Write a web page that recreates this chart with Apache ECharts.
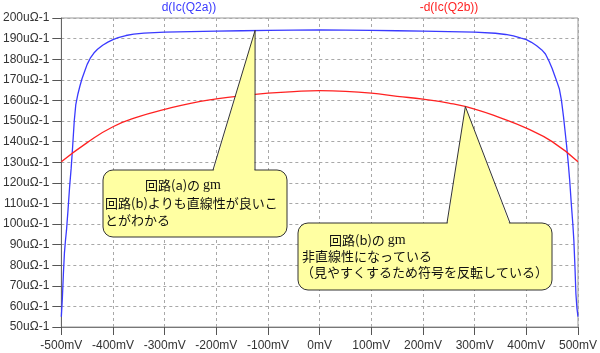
<!DOCTYPE html>
<html>
<head>
<meta charset="utf-8">
<script src="https://cdn.jsdelivr.net/npm/echarts@6/dist/echarts.min.js"></script>
<style>
  html, body { margin: 0; padding: 0; background: #fff; }
  #chart { width: 600px; height: 353px; }
</style>
</head>
<body>
<div id="chart"></div>
<script>
// trace names
const traceNames = ['d(Ic(Q2a))', '-d(Ic(Q2b))'];

// circuit (a): d(Ic(Q2a)) [uΩ-1] vs input [mV]
const aX = [-500, -498, -496, -494, -492, -490, -487, -484, -481, -478, -475, -472, -468, -464, -460, -455, -450, -444, -437, -430, -420, -410, -400, -390, -375, -360, -340, -300, -250, -200, -150, -100, -50, 0,
            50, 100, 150, 200, 250, 300, 340, 360, 375, 390, 400, 410, 420, 430, 437, 444, 450, 455, 460, 464, 468, 472, 475, 478, 481, 484, 487, 490, 492, 494, 496, 498, 500];
const aY = [55, 64, 76, 86, 92, 97, 107, 118, 127, 138, 150, 158, 163, 167, 170.5, 174, 177.5, 180.5, 183, 184.8, 186.8, 188.3, 189.5, 190.5, 191.5, 192.2, 192.7, 193.1, 193.4, 193.6, 193.8, 194, 194.1, 194.2,
            194.1, 194, 193.8, 193.6, 193.4, 193.1, 192.6, 192, 191.3, 190.2, 189.5, 188.2, 186.5, 184.5, 182.5, 179, 175.5, 172, 168.5, 165.5, 160, 152, 145, 138, 130, 121, 110, 100, 92, 80, 66, 59, 55];

// circuit (b): -d(Ic(Q2b)) [uΩ-1] vs input [mV]
const bX = [-500, -450, -400, -350, -300, -250, -200, -150, -100, -50, 0, 50, 100, 150, 200, 250, 300, 350, 400, 450, 500];
const bY = [130.2, 139.5, 147.2, 152.1, 155.6, 158.6, 160.7, 162.3, 163.5, 164.3, 164.7, 164.4, 163.5, 162, 160.6, 158.7, 155.8, 151.5, 146.5, 140, 130.2];

// callout notes
const noteA = ['回路(a)の ', 'gm', '回路(b)よりも直線性が良いこ', 'とがわかる'];
const noteB = ['回路(b)の ', 'gm', '非直線性になっている', '（見やすくするため符号を反転している）'];
// where the pointers touch the curves [mV, uΩ-1]
const tipA = [-125, 194];
const tipB = [282, 157];

const LABEL_FONT = '"Liberation Sans", Arial, sans-serif';
const JP_FONT = '"Noto Sans CJK JP", sans-serif';
const FILL = '#ffffa2';

const chart = echarts.init(document.getElementById('chart'), null, { renderer: 'canvas' });

const gridLine = { lineStyle: { color: '#a8a8a8', type: [3, 3], width: 1 } };

chart.setOption({
  animation: false,
  backgroundColor: '#fff',
  grid: { left: 60, right: 20, top: 18, bottom: 26, show: true, borderColor: '#999', borderWidth: 1 },
  xAxis: {
    type: 'value', min: -500, max: 500, interval: 100,
    axisLine: { onZero: false, lineStyle: { color: '#777' } },
    axisTick: { length: 8, lineStyle: { color: '#555' } },
    axisLabel: { color: '#333', fontSize: 12, fontFamily: LABEL_FONT, margin: 13, formatter: v => v + 'mV' },
    splitLine: gridLine,
  },
  yAxis: {
    type: 'value', min: 50, max: 200, interval: 10,
    axisLine: { show: true, onZero: false, lineStyle: { color: '#666' } },
    axisTick: { show: true, length: 9, lineStyle: { color: '#555' } },
    axisLabel: { color: '#333', fontSize: 12, fontFamily: LABEL_FONT, margin: 12, formatter: v => v + 'uΩ-1' },
    splitLine: gridLine,
  },
  series: [
    {
      name: traceNames[0], type: 'line', showSymbol: false,
      data: aX.map((x, i) => [x, aY[i]]),
      lineStyle: { color: '#3a3aff', width: 1.3 },
    },
    {
      name: traceNames[1], type: 'line', showSymbol: false,
      smooth: 0.5,
      data: bX.map((x, i) => [x, bY[i]]),
      lineStyle: { color: '#ff2222', width: 1.3 },
    },
  ],
});

function callout(box, base, tip, lines, textPos) {
  const els = [
    { type: 'rect', z: 100, shape: { x: box[0], y: box[1], width: box[2], height: box[3], r: 10 },
      style: { fill: FILL, stroke: '#333', lineWidth: 1 } },
    { type: 'polygon', z: 101, shape: { points: [[base[0] + 0.5, box[1] + 1.5], [base[1] - 0.5, box[1] + 1.5], tip] },
      style: { fill: FILL } },
    { type: 'polyline', z: 102, shape: { points: [[base[0], box[1]], tip, [base[1], box[1]]] },
      style: { stroke: '#333', fill: null, lineWidth: 1 } },
    { type: 'text', z: 103, style: {
        x: textPos[0][0], y: textPos[0][1], verticalAlign: 'middle',
        text: '{j|' + lines[0] + '}{g|' + lines[1] + '}',
        rich: { j: { font: '13px ' + JP_FONT, fill: '#111' }, g: { font: '14px "Liberation Serif", serif', fill: '#111' } },
      } },
  ];
  for (let i = 2; i < lines.length; i++) {
    els.push({ type: 'text', z: 103, style: {
      x: textPos[i - 1][0], y: textPos[i - 1][1], verticalAlign: 'middle',
      text: lines[i], font: '13px ' + JP_FONT, fill: '#111',
    } });
  }
  return els;
}

const pA = chart.convertToPixel({ gridIndex: 0 }, tipA);
const pB = chart.convertToPixel({ gridIndex: 0 }, tipB);

chart.setOption({
  graphic: [
    { type: 'text', z: 50, style: { x: 189, y: 8, align: 'center', verticalAlign: 'middle', text: traceNames[0], font: '12px ' + LABEL_FONT, fill: '#3a3aff' } },
    { type: 'text', z: 50, style: { x: 449, y: 8, align: 'center', verticalAlign: 'middle', text: traceNames[1], font: '12px ' + LABEL_FONT, fill: '#ff2222' } },
    ...callout([103, 170, 184, 67], [213, 255], pA, noteA, [[145, 185], [105, 203], [105, 220.5]]),
    ...callout([298, 223, 254, 67], [447, 510], pB, noteB, [[329, 240.5], [302, 256], [301, 272]]),
  ],
});
</script>
</body>
</html>
